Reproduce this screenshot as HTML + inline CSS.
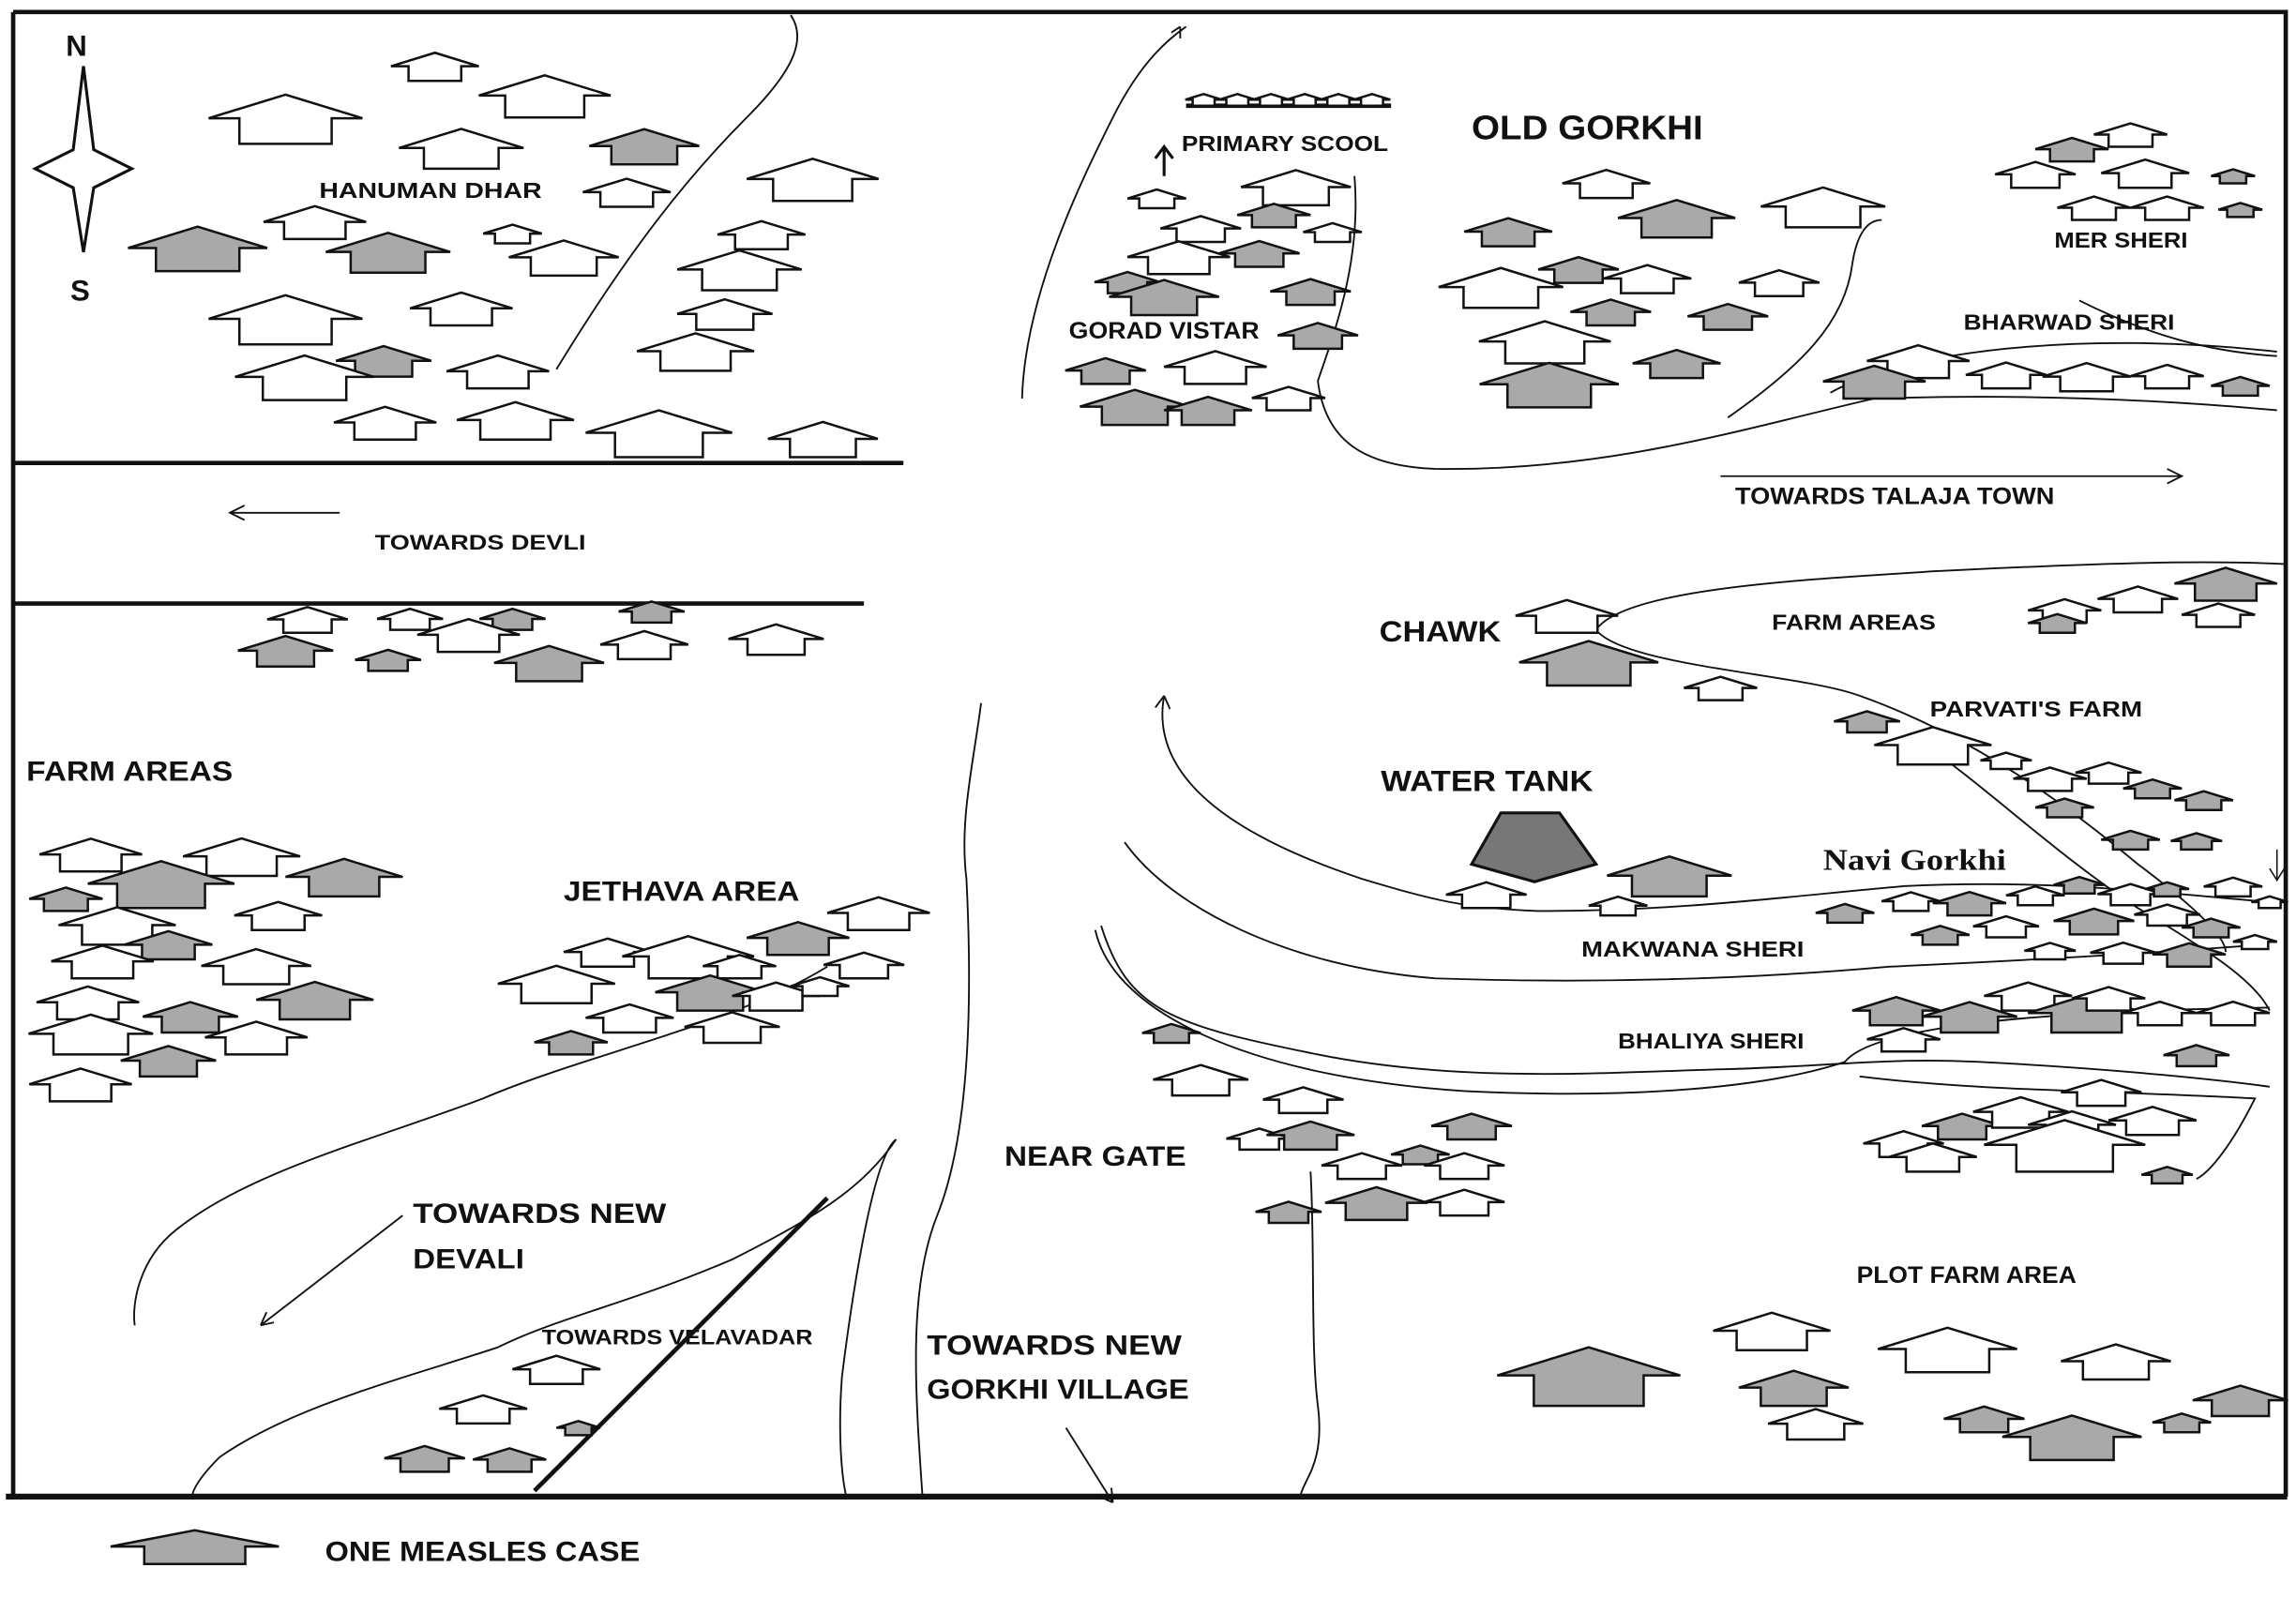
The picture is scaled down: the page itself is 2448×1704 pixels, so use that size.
<!DOCTYPE html>
<html><head><meta charset="utf-8"><style>
html,body{margin:0;padding:0;background:#fff;}
svg{display:block;}
text{font-family:"Liberation Sans",sans-serif;font-weight:bold;fill:#111;}
</style></head><body>
<svg id="s" width="2448" height="1704" viewBox="0 0 1568 1091" xmlns="http://www.w3.org/2000/svg">
<rect x="0" y="0" width="1568" height="1091" fill="#fff"/>
<g fill="none" stroke="#111">
<path d="M9 8 H1561 V1022" stroke-width="3"/>
<path d="M9 8 V1022" stroke-width="3"/>
<path d="M4 1022 H1562" stroke-width="4"/>
<path d="M9 316 H617" stroke-width="3"/>
<path d="M9 412 H590" stroke-width="3"/>
<path d="M380 252 C430 170 470 120 510 80 C545 45 550 25 540 10" stroke-width="1.2"/>
<path d="M698 272 C700 200 740 120 760 80 C780 40 800 25 810 18" stroke-width="1.2"/>
<path d="M806 18 l-6 4 M806 18 l0 8" stroke-width="1.2"/>
<path d="M925 120 C930 180 910 230 900 260 C905 300 930 318 980 320 C1100 322 1200 290 1280 272 C1400 268 1500 275 1555 280" stroke-width="1.2"/>
<path d="M1180 285 C1230 250 1260 220 1265 180 C1268 160 1275 150 1285 150" stroke-width="1.2"/>
<path d="M1420 205 C1470 230 1510 240 1555 243" stroke-width="1.2"/>
<path d="M1250 268 C1300 240 1420 225 1555 240" stroke-width="1.2"/>
<path d="M1175 325 H1490 M1480 320 l10 5 l-10 5" stroke-width="1.2"/>
<path d="M232 350 H157 M167 345 l-10 5 l10 5" stroke-width="1.2"/>
<path d="M1090 430 C1110 400 1250 395 1320 390 C1420 385 1500 382 1560 385" stroke-width="1.2"/>
<path d="M1090 430 C1110 455 1230 460 1270 475 C1340 500 1400 540 1460 590 C1500 620 1520 640 1520 650" stroke-width="1.2"/>
<path d="M1310 505 C1360 540 1400 580 1460 620 C1510 650 1540 670 1550 690" stroke-width="1.2"/>
<path d="M1555 580 V600 M1550 593 l5 8 l5 -8" stroke-width="1"/>
<path d="M795 475 C785 530 840 570 930 600 C980 615 1000 620 1050 622 C1150 622 1220 612 1300 605 C1400 600 1480 610 1540 615" stroke-width="1.2"/>
<path d="M795 475 l-6 8 M795 475 l4 9" stroke-width="1.2"/>
<path d="M768 575 C800 620 880 660 980 668 C1100 672 1200 668 1290 660 C1400 655 1480 650 1545 645" stroke-width="1.2"/>
<path d="M748 635 C760 690 850 735 1000 745 C1100 750 1200 745 1260 725 C1280 700 1400 690 1550 688" stroke-width="1.2"/>
<path d="M752 632 C770 690 800 700 900 720 C1000 740 1100 732 1180 730 C1250 728 1290 722 1350 725 C1450 730 1520 738 1550 742" stroke-width="1.2"/>
<path d="M1270 735 C1350 745 1450 745 1540 750 C1525 780 1510 800 1500 805" stroke-width="1.2"/>
<path d="M670 480 C665 520 655 560 660 600 C665 700 660 780 640 830 C620 880 625 950 630 1022" stroke-width="1.2"/>
<path d="M612 778 C590 810 560 830 500 860 C430 890 380 900 340 920 C280 940 200 960 150 995 C135 1010 130 1020 132 1022" stroke-width="1.2"/>
<path d="M612 778 C595 790 580 900 575 940 C572 980 575 1010 578 1022" stroke-width="1.2"/>
<path d="M565 660 C500 700 400 720 330 750 C250 780 170 800 120 840 C95 860 90 890 92 905" stroke-width="1.2"/>
<path d="M565 818 L365 1018" stroke-width="3"/>
<path d="M275 830 L178 905 M178 905 l4 -9 M178 905 l9 -2" stroke-width="1.2"/>
<path d="M895 800 C898 850 895 920 900 960 C905 1000 890 1010 888 1022" stroke-width="1.2"/>
<path d="M728 975 L760 1026 M760 1026 l-1 -10 M760 1026 l-9 -4" stroke-width="1.2"/>
<path d="M810 72 H950" stroke-width="3"/>
<path d="M795 120 V100 M789 108 l6 -8 l6 8" stroke-width="2"/>
</g>
<path d="M57 45 L64 102 L90 115 L64 128 L57 172 L50 128 L24 115 L50 102 Z" fill="#fff" stroke="#111" stroke-width="2"/>
<polygon points="1025,555 1065,555 1090,590 1048,602 1005,590" fill="#777" stroke="#111" stroke-width="2"/>
<g id="h"></g>
<g lengthAdjust="spacingAndGlyphs">
<text x="45" y="38" font-size="20">N</text>
<text x="48" y="205" font-size="20">S</text>
<text x="218" y="135" font-size="15" textLength="152" lengthAdjust="spacingAndGlyphs">HANUMAN DHAR</text>
<text x="256" y="375" font-size="14" textLength="144" lengthAdjust="spacingAndGlyphs">TOWARDS DEVLI</text>
<text x="18" y="533" font-size="19" textLength="141" lengthAdjust="spacingAndGlyphs">FARM AREAS</text>
<text x="385" y="615" font-size="19" textLength="161" lengthAdjust="spacingAndGlyphs">JETHAVA AREA</text>
<text x="282" y="835" font-size="19" textLength="173" lengthAdjust="spacingAndGlyphs">TOWARDS NEW</text>
<text x="282" y="866" font-size="19" textLength="76" lengthAdjust="spacingAndGlyphs">DEVALI</text>
<text x="370" y="918" font-size="14" font-weight="normal" textLength="185" lengthAdjust="spacingAndGlyphs">TOWARDS VELAVADAR</text>
<text x="633" y="925" font-size="19" textLength="174" lengthAdjust="spacingAndGlyphs">TOWARDS NEW</text>
<text x="633" y="955" font-size="19" textLength="179" lengthAdjust="spacingAndGlyphs">GORKHI VILLAGE</text>
<text x="686" y="796" font-size="19" textLength="124" lengthAdjust="spacingAndGlyphs">NEAR GATE</text>
<text x="807" y="103" font-size="15" textLength="141" lengthAdjust="spacingAndGlyphs">PRIMARY SCOOL</text>
<text x="1005" y="95" font-size="23" textLength="158" lengthAdjust="spacingAndGlyphs">OLD GORKHI</text>
<text x="730" y="231" font-size="16" textLength="130" lengthAdjust="spacingAndGlyphs">GORAD VISTAR</text>
<text x="1403" y="169" font-size="15" textLength="91" lengthAdjust="spacingAndGlyphs">MER SHERI</text>
<text x="1341" y="225" font-size="15" textLength="144" lengthAdjust="spacingAndGlyphs">BHARWAD SHERI</text>
<text x="1185" y="344" font-size="16" textLength="218" lengthAdjust="spacingAndGlyphs">TOWARDS TALAJA TOWN</text>
<text x="942" y="438" font-size="20" textLength="83" lengthAdjust="spacingAndGlyphs">CHAWK</text>
<text x="1210" y="430" font-size="15" textLength="112" lengthAdjust="spacingAndGlyphs">FARM AREAS</text>
<text x="1318" y="489" font-size="15" textLength="145" lengthAdjust="spacingAndGlyphs">PARVATI'S FARM</text>
<text x="943" y="540" font-size="20" textLength="145" lengthAdjust="spacingAndGlyphs">WATER TANK</text>
<text x="1245" y="594" font-size="20" font-weight="normal" style="font-family:'Liberation Serif',serif" textLength="125" lengthAdjust="spacingAndGlyphs">Navi Gorkhi</text>
<text x="1080" y="653" font-size="15" textLength="152" lengthAdjust="spacingAndGlyphs">MAKWANA SHERI</text>
<text x="1105" y="716" font-size="15" textLength="127" lengthAdjust="spacingAndGlyphs">BHALIYA SHERI</text>
<text x="1268" y="876" font-size="16" textLength="150" lengthAdjust="spacingAndGlyphs">PLOT FARM AREA</text>
<text x="222" y="1066" font-size="19" textLength="215" lengthAdjust="spacingAndGlyphs">ONE MEASLES CASE</text>
</g>
</svg>
<script>
var H=[[297,55,60,0],[195,98,105,0],[372,80,90,0],[440,112,75,1],[315,115,85,0],[555,137,90,0],[135,185,95,1],[215,163,70,0],[265,186,85,1],[350,166,40,0],[385,188,75,0],[428,141,60,0],[520,170,60,0],[505,198,85,0],[315,222,70,0],[495,225,65,0],[195,235,105,0],[262,257,65,1],[340,265,70,0],[475,253,80,0],[208,273,95,0],[263,300,70,0],[352,300,80,0],[450,312,100,0],[562,312,75,0],
[210,432,55,0],[280,430,45,0],[350,430,45,1],[445,425,45,1],[195,455,65,1],[265,458,45,1],[320,445,70,0],[440,450,60,0],[530,447,65,0],[375,465,75,1],
[62,595,70,0],[165,598,80,0],[45,622,50,1],[110,620,100,1],[235,612,80,1],[190,635,60,0],[80,645,80,0],[115,655,60,1],[70,668,70,0],[175,672,75,0],[215,696,80,1],[60,696,70,0],[130,705,65,1],[175,720,70,0],[62,720,85,0],[115,735,65,1],[55,752,70,0],
[415,660,60,0],[470,668,90,0],[600,635,70,0],[545,652,70,1],[505,668,50,0],[590,668,55,0],[380,685,80,0],[485,690,75,1],[530,690,60,0],[560,680,40,0],[390,720,50,1],[430,705,60,0],[500,712,65,0],
[380,945,60,0],[330,972,60,0],[395,980,30,1],[290,1005,55,1],[348,1005,50,1],
[790,142,40,0],[820,165,55,0],[885,140,75,0],[870,155,50,1],[910,165,40,0],[805,187,70,0],[860,182,55,1],[770,200,45,1],[895,208,55,1],[795,215,75,1],[900,238,55,1],[755,262,55,1],[830,262,70,0],[775,290,75,1],[825,290,60,1],[880,280,50,0],
[822,72,25,0],[845,72,25,0],[868,72,25,0],[891,72,25,0],[914,72,25,0],[937,72,25,0],
[1097,135,60,0],[1245,155,85,0],[1145,162,80,1],[1030,168,60,1],[1215,202,55,0],[1125,200,60,0],[1078,193,55,1],[1025,210,85,0],[1180,225,55,1],[1100,222,55,1],[1055,248,90,0],[1145,258,60,1],[1058,278,95,1],
[1415,110,50,1],[1455,100,50,0],[1390,128,55,0],[1465,128,60,0],[1525,125,30,1],[1430,150,50,0],[1480,150,50,0],[1530,148,30,1],
[1310,258,70,0],[1370,265,55,0],[1425,267,60,0],[1480,265,50,0],[1530,270,40,1],[1280,272,70,1],
[1070,432,70,0],[1085,468,95,1],[1175,478,50,0],
[1410,425,50,0],[1460,418,55,0],[1520,410,70,1],[1515,428,50,0],[1405,432,40,1],
[1275,500,45,1],[1320,522,80,0],[1370,525,35,0],[1400,540,50,0],[1440,535,45,0],[1470,545,40,1],[1505,553,40,1],[1410,558,40,1],[1455,580,40,1],[1500,580,35,1],
[1140,612,85,1],[1015,620,55,0],[1105,625,40,0],[1260,630,40,1],
[1305,622,40,0],[1345,625,50,1],[1390,618,40,0],[1420,610,35,1],[1455,618,45,0],[1480,612,30,1],[1525,612,40,0],[1550,620,25,0],[1325,645,40,1],[1370,640,45,0],[1430,638,55,1],[1480,632,45,0],[1510,640,40,1],[1400,655,35,0],[1450,658,45,0],[1495,660,50,1],[1540,648,30,0],
[1295,700,60,1],[1345,705,65,1],[1385,690,60,0],[1425,705,80,1],[1475,700,50,0],[1525,700,50,0],[1300,718,50,0],[1500,728,45,1],[1440,690,50,0],
[800,712,40,1],[820,748,65,0],[890,760,55,0],[860,785,45,0],[895,785,60,1],[1005,778,55,1],[930,805,55,0],[970,795,40,1],[1000,805,55,0],[880,835,45,1],[940,833,70,1],[1000,830,55,0],
[1300,790,55,0],[1340,778,55,1],[1380,770,65,0],[1415,778,60,0],[1470,775,60,0],[1320,800,60,0],[1410,800,110,0],[1480,808,35,1],[1435,755,55,0],
[1210,922,80,0],[1330,937,95,0],[1445,942,75,0],[1085,960,125,1],[1225,960,75,1],[1355,978,55,1],[1240,983,65,0],[1415,997,95,1],[1490,978,40,1],[1530,967,65,1],
[133,1068,115,1,0.2]];
var s='';
H.forEach(function(a){var x=a[0],b=a[1],w=a[2],h=w*(a[4]||0.32),r=b-h*0.52,t=b-h,bw=w*0.3;
s+='<path d="M'+(x-bw)+' '+b+'L'+(x-bw)+' '+r+'L'+(x-w/2)+' '+r+'L'+x+' '+t+'L'+(x+w/2)+' '+r+'L'+(x+bw)+' '+r+'L'+(x+bw)+' '+b+'Z" fill="'+(a[3]?'#a9a9a9':'#fff')+'" stroke="#111" stroke-width="1.6"/>';});
document.getElementById('h').innerHTML=s;
</script>
</body></html>
